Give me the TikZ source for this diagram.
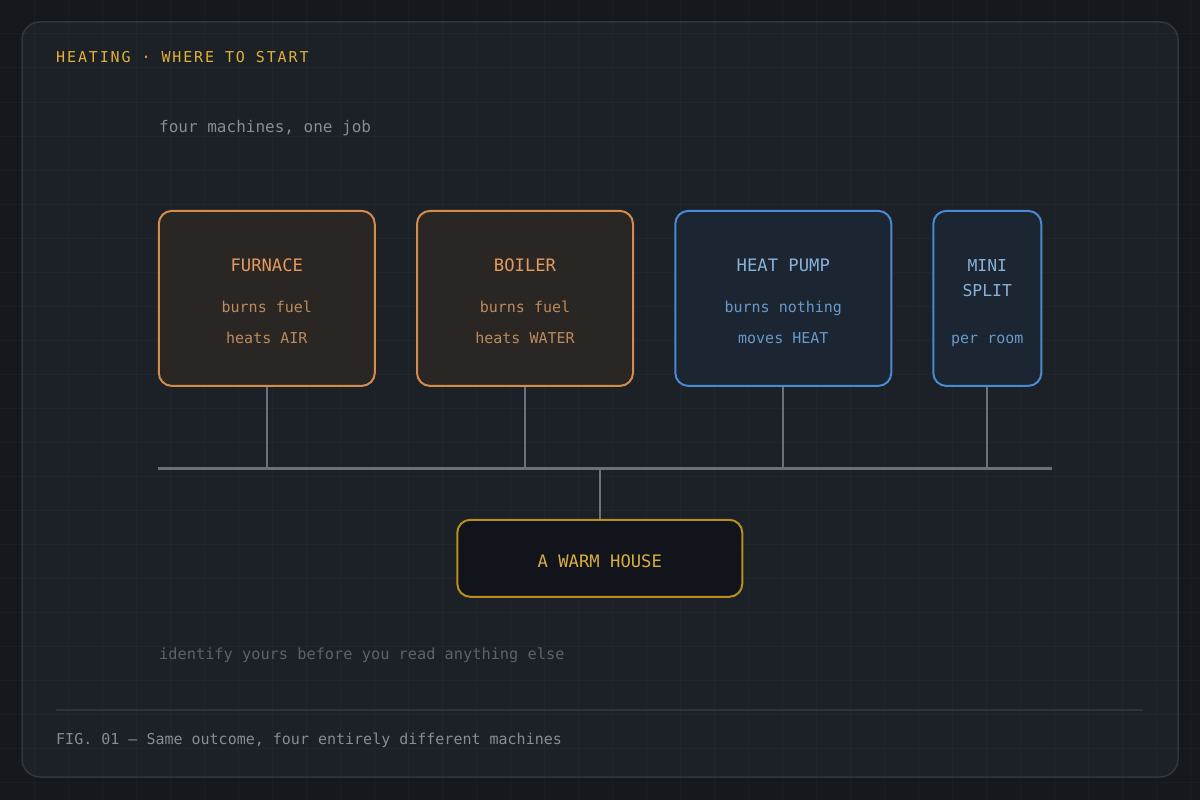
\documentclass[tikz,border=0pt]{standalone}
\usepackage{fontspec}
\setmonofont{DejaVu Sans Mono}
\newfontfamily\titlefont[LetterSpace=12.5]{DejaVu Sans Mono}
\definecolor{bgouter}{HTML}{15191E}
\definecolor{cardfill}{HTML}{1C2027}
\definecolor{cardline}{HTML}{31363C}
\definecolor{amber}{HTML}{E2B034}
\definecolor{subgray}{HTML}{868D96}
\definecolor{dimgray}{HTML}{5C636C}
\definecolor{sepline}{HTML}{2F343A}
\definecolor{warmfill}{HTML}{2A2623}
\definecolor{warmline}{HTML}{D48C4E}
\definecolor{warmtitle}{HTML}{E39A5E}
\definecolor{warmsub}{HTML}{BC8A5C}
\definecolor{coolfill}{HTML}{1B2632}
\definecolor{coolline}{HTML}{4A8AD0}
\definecolor{cooltitle}{HTML}{8BB0D8}
\definecolor{coolsub}{HTML}{6A98C8}
\definecolor{busgray}{HTML}{6B7079}
\definecolor{housefill}{HTML}{11141A}
\definecolor{houseline}{HTML}{B8901E}
\definecolor{housetext}{HTML}{D9AE3E}
\tikzset{
  warmbox/.style={draw=warmline, fill=warmfill, line width=2pt, rounded corners=13pt, minimum width=216pt, minimum height=175pt},
  coolbox/.style={draw=coolline, fill=coolfill, line width=2pt, rounded corners=13pt, minimum height=175pt},
  housebox/.style={draw=houseline, fill=housefill, line width=2pt, rounded corners=13pt, minimum width=285pt, minimum height=77pt},
  boxtitle/.style={anchor=base, inner sep=0pt, font=\ttfamily\fontsize{17.2}{20}\selectfont},
  boxsub/.style={anchor=base, inner sep=0pt, font=\ttfamily\fontsize{15}{18}\selectfont},
  conn/.style={draw=busgray, line width=2pt},
  busline/.style={draw=busgray, line width=2.5pt},
  gridline/.style={draw=white, opacity=0.022, line width=1pt},
  plaintext/.style={anchor=base west, inner sep=0pt},
}
\begin{document}
\begin{tikzpicture}[x=1pt,y=-1pt]
\useasboundingbox (0,0) rectangle (1200,800);
\fill[bgouter] (0,0) rectangle (1200,800);
\draw[cardline, fill=cardfill, line width=1.5pt, rounded corners=18pt] (22,22) rectangle (1178,777);
\foreach \i in {34,68,...,1200} \draw[gridline] (\i,0) -- (\i,800);
\foreach \j in {34,68,...,800} \draw[gridline] (0,\j) -- (1200,\j);

% header texts
\node[plaintext, text=amber, font=\titlefont\fontsize{15}{18}\selectfont] (title) at (56,62.3) {HEATING · WHERE TO START};
\node[plaintext, text=subgray, font=\ttfamily\fontsize{16}{20}\selectfont] (subtitle) at (159,132) {four machines, one job};

% machine boxes
\node[warmbox] (furnace) at (266.8,298.4) {};
\node[warmbox] (boiler) at (525,298.4) {};
\node[coolbox, minimum width=216pt] (heatpump) at (783.3,298.4) {};
\node[coolbox, minimum width=108pt] (minisplit) at (987.3,298.4) {};

\node[boxtitle, text=warmtitle] (furnaceT) at (266.8,271.7) {FURNACE};
\node[boxsub, text=warmsub] (furnaceA) at (266.8,312.3) {burns fuel};
\node[boxsub, text=warmsub] (furnaceB) at (266.8,343.3) {heats AIR};

\node[boxtitle, text=warmtitle] (boilerT) at (525,271.7) {BOILER};
\node[boxsub, text=warmsub] (boilerA) at (525,312.3) {burns fuel};
\node[boxsub, text=warmsub] (boilerB) at (525,343.3) {heats WATER};

\node[boxtitle, text=cooltitle] (heatpumpT) at (783.3,271.7) {HEAT PUMP};
\node[boxsub, text=coolsub] (heatpumpA) at (783.3,312.3) {burns nothing};
\node[boxsub, text=coolsub] (heatpumpB) at (783.3,343.3) {moves HEAT};

\node[boxtitle, text=cooltitle, font=\ttfamily\fontsize{16.4}{20}\selectfont] (minisplitT) at (987.3,271.7) {MINI};
\node[boxtitle, text=cooltitle, font=\ttfamily\fontsize{16.4}{20}\selectfont] (minisplitU) at (987.3,296) {SPLIT};
\node[boxsub, text=coolsub] (minisplitA) at (987.3,343.3) {per room};

% bus and connectors
\coordinate (busL) at (158,468.3);
\coordinate (busR) at (1052,468.3);
\draw[busline] (busL) -- (busR);
\draw[conn] (furnace.south) -- (furnace.south |- busL);
\draw[conn] (boiler.south) -- (boiler.south |- busL);
\draw[conn] (heatpump.south) -- (heatpump.south |- busL);
\draw[conn] (minisplit.south) -- (minisplit.south |- busL);

% house
\node[housebox] (house) at (599.8,558.3) {};
\draw[conn] (house.north |- busL) -- (house.north);
\node[boxtitle, text=housetext] (houseT) at (599.8,567.3) {A WARM HOUSE};

% footer
\node[plaintext, text=dimgray, font=\ttfamily\fontsize{15.3}{18}\selectfont] (note) at (159,659) {identify yours before you read anything else};
\coordinate (sepL) at (56,710);
\coordinate (sepR) at (1143,710);
\draw[sepline, line width=1.5pt] (sepL) -- (sepR);
\node[plaintext, text=subgray, font=\ttfamily\fontsize{15}{18}\selectfont] (caption) at (56,744) {FIG. 01 — Same outcome, four entirely different machines};
\end{tikzpicture}
\end{document}
